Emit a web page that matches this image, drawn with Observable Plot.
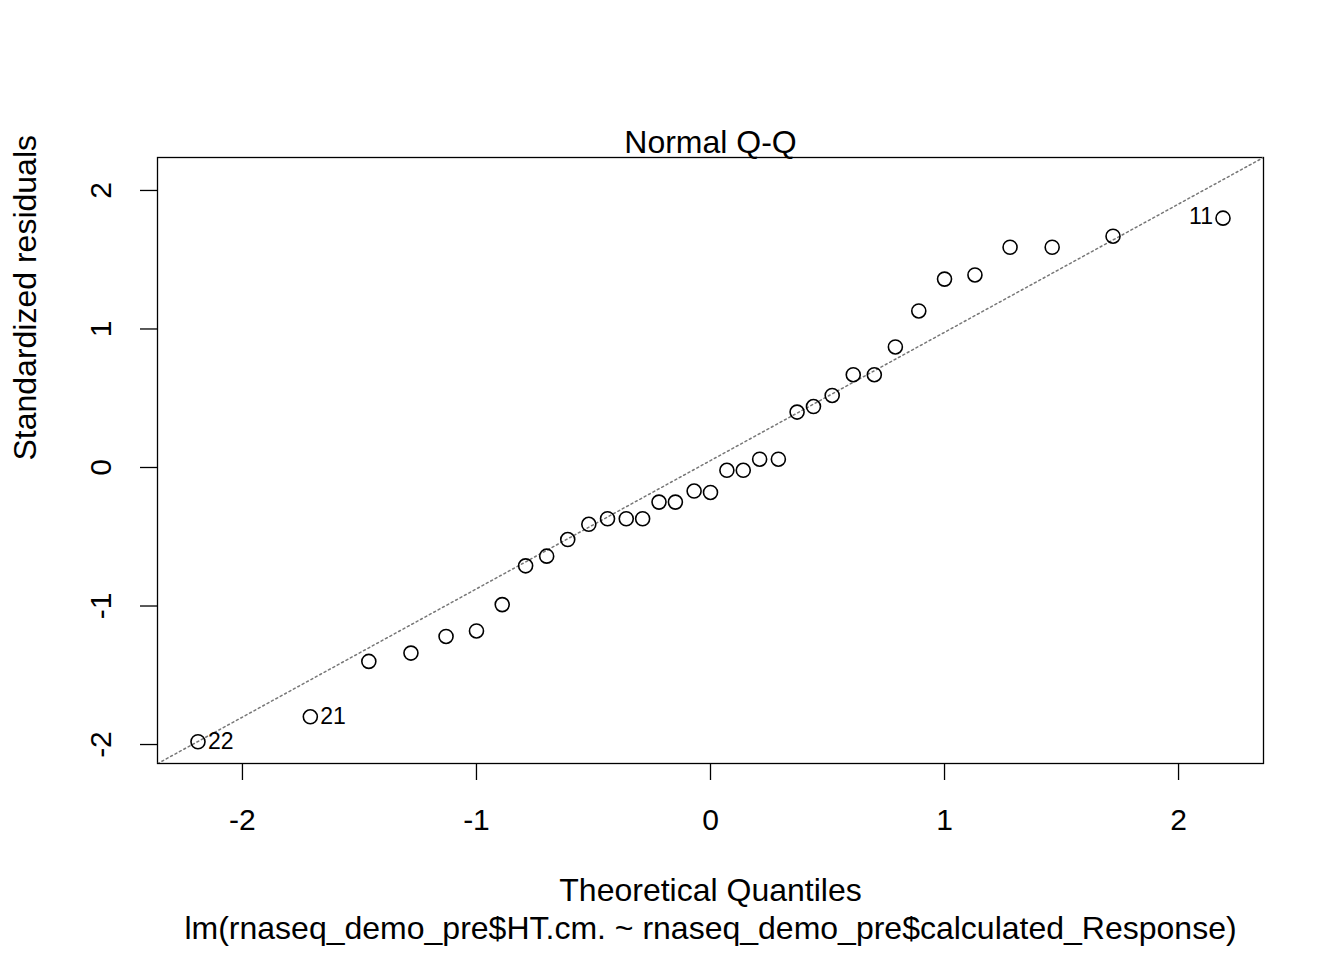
<!DOCTYPE html>
<html><head><meta charset="utf-8">
<script src="https://cdn.jsdelivr.net/npm/d3@7"></script>
<script src="https://cdn.jsdelivr.net/npm/@observablehq/plot@0.6"></script>
<style>body{margin:0;background:#fff}</style>
</head><body><div id="chart"></div>
<script>
// theoretical quantiles and standardized residuals
const theo = [-2.19,-1.71,-1.46,-1.28,-1.13,-1.0,-0.89,-0.79,-0.70,-0.61,-0.52,-0.44,-0.36,-0.29,-0.22,-0.15,-0.07,0,
  0.07,0.14,0.21,0.29,0.37,0.44,0.52,0.61,0.70,0.79,0.89,1.0,1.13,1.28,1.46,1.72,2.19];
const resid = [-1.98,-1.80,-1.40,-1.34,-1.22,-1.18,-0.99,-0.71,-0.64,-0.52,-0.41,-0.37,-0.37,-0.37,-0.25,-0.25,-0.17,-0.18,
  -0.02,-0.02,0.06,0.06,0.40,0.44,0.52,0.67,0.67,0.87,1.13,1.36,1.39,1.59,1.59,1.67,1.80];
const labelled = [{i:0, name:"22", side:"right"},{i:1, name:"21", side:"right"},{i:34, name:"11", side:"left"}];
const qqline = {intercept: 0.05, slope: 0.926};
const xDom = [-2.363, 2.363], yDom = [-2.137, 2.238];

const pts = theo.map((t,i)=>({x:t, y:resid[i]}));
const lineData = xDom.map(x=>({x, y: qqline.intercept + qqline.slope*x}));
const labs = labelled.map(d=>({...pts[d.i], name:d.name, side:d.side}));
const fmt = d=>d<0?"-"+(-d):d;

const chart = Plot.plot({
  width:1344, height:960,
  marginLeft:157, marginRight:81, marginTop:157, marginBottom:197,
  style:{fontFamily:"Liberation Sans, Arial, sans-serif", fontSize:"30px", color:"#000", background:"#fff"},
  x:{domain:xDom}, y:{domain:yDom},
  marks:[
    Plot.frame({stroke:"#000", strokeWidth:1.3}),
    Plot.line(lineData,{x:"x", y:"y", stroke:"#777", strokeWidth:1.5, strokeDasharray:"2,3", clip:true}),
    Plot.dot(pts,{x:"x", y:"y", r:7, stroke:"#000", strokeWidth:1.6}),
    Plot.text(labs.filter(d=>d.side==="right"),{x:"x", y:"y", text:"name", textAnchor:"start", dx:10, fontSize:23}),
    Plot.text(labs.filter(d=>d.side==="left"),{x:"x", y:"y", text:"name", textAnchor:"end", dx:-10, dy:-2, fontSize:23}),
    Plot.axisX({ticks:[-2,-1,0,1,2], tickSize:17, tickPadding:28, tickFormat:fmt, fontSize:30, label:null, strokeWidth:1.3}),
    Plot.axisY({ticks:[-2,-1,0,1,2], tickSize:17, tickPadding:30, tickRotate:-90, tickFormat:fmt, fontSize:30, label:null, strokeWidth:1.3}),
    Plot.text(["Normal Q-Q"],{frameAnchor:"top", dy:-27, fontSize:32}),
    Plot.text(["Theoretical Quantiles"],{frameAnchor:"bottom", dy:137, fontSize:32}),
    Plot.text(["lm(rnaseq_demo_pre$HT.cm. ~ rnaseq_demo_pre$calculated_Response)"],{frameAnchor:"bottom", dy:175, fontSize:32}),
    Plot.text(["Standardized residuals"],{frameAnchor:"left", dx:-132, rotate:-90, fontSize:32})
  ]
});
d3.select('#chart').append(()=>chart);
</script></body></html>
